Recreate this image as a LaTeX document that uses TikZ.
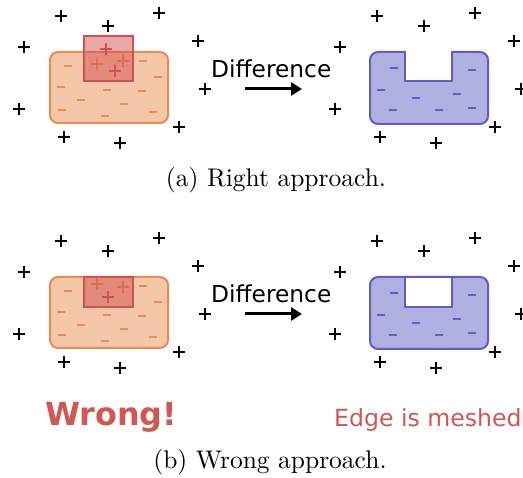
\documentclass[tikz,border=0pt]{standalone}
\usepackage{fontspec}
\newfontfamily\dejavu{DejaVu Sans}
\newfontfamily\capfont{lmroman10-regular}[Extension=.otf]
\usetikzlibrary{arrows.meta}
\definecolor{ofill}{RGB}{244,199,168}
\definecolor{oline}{RGB}{238,140,80}
\definecolor{rline}{RGB}{212,80,80}
\definecolor{bfill}{RGB}{176,176,224}
\definecolor{bline}{RGB}{98,92,196}
\definecolor{wrongred}{RGB}{212,86,82}
\tikzset{
  pics/plussign/.style={code={\draw[line width=1.1pt,#1] (-6,0)--(6,0) (0,-6)--(0,6);}},
  pics/plussign/.default=black,
  pics/minussign/.style={code={\draw[line width=1.8pt,#1] (-4,0)--(4,0);}},
  orect/.style={fill=ofill,draw=oline,line width=2pt,rounded corners=8pt},
  brect/.style={fill=bfill,draw=bline,line width=2pt,rounded corners=8pt},
  rsq/.style={fill=rline,fill opacity=0.5,draw=rline,draw opacity=1,line width=2pt},
  difftext/.style={inner sep=0pt,font=\dejavu\fontsize{23.3}{28}\selectfont},
  captext/.style={inner sep=0pt,font=\capfont\fontsize{25.5}{30}\selectfont},
  bigarrow/.style={line width=3pt,-{Triangle[length=11pt,width=13pt]}},
}
\newcommand\commonrow[1]{%
  \foreach \x/\y in {61/16,108/26,159/13,24/47,198/41,205/89,19/109,179/127,64/137,120/143}
    {\pic at (\x,\y) {plussign}; \pic at (\x+316,\y) {plussign};}
  \draw[orect] (50,52) rectangle (168,123);
  \foreach \x/\y in {68/66,143/61,158/77,61/87,107/90,142/91,81/100,124/104,62/110,105/116,153/112}
    {\pic at (\x,\y) {minussign=oline};}
  \draw[brect] (370,52) rectangle (488,124);
  \foreach \x/\y in {394/68,472/70,381/90,416/98,457/94,393/110,439/110,472/108}
    {\pic at (\x,\y) {minussign=bline};}
  \node[difftext,anchor=base west] (diff#1) at (211,78) {Difference};
  \coordinate (as#1) at (245,89);
  \coordinate (ae#1) at (302,89);
  \draw[bigarrow] (as#1) -- (ae#1);
}
\begin{document}
\begin{tikzpicture}[x=1pt,y=-1pt]
\useasboundingbox (0,0) rectangle (523,478);
% ---------- row (a)
\begin{scope}
  \commonrow{a}
  \pic at (97,64) {plussign=oline};
  \pic at (123,61) {plussign=oline};
  \draw[rsq] (84,36) rectangle (133,81);
  \pic at (106,49) {plussign=rline};
  \pic at (115,71) {plussign=rline};
  \fill[white] (405,48) rectangle (452,81);
  \draw[bline,line width=2pt] (405,51) -- (405,81) -- (452,81) -- (452,51);
\end{scope}
\node[captext,anchor=base] (capa) at (276,187) {(a) Right approach.};
% ---------- row (b)
\begin{scope}[shift={(0,225)}]
  \commonrow{b}
  \pic at (97,59) {plussign=oline};
  \pic at (123,62) {plussign=oline};
  \draw[rsq] (84,52) rectangle (133,82);
  \pic at (108,72) {plussign=rline};
  \draw[bline,fill=white,line width=2pt] (405,52) rectangle (452,82);
\end{scope}
\node[inner sep=0pt,anchor=base west,text=wrongred,font=\dejavu\bfseries\fontsize{31.8}{36}\selectfont] (wrong) at (45,426) {Wrong!};
\node[inner sep=0pt,anchor=base west,text=wrongred,font=\dejavu\fontsize{23.6}{28}\selectfont] (edge) at (334,427) {Edge is meshed};
\node[captext,anchor=base] (capb) at (270,469) {(b) Wrong approach.};
\end{tikzpicture}
\end{document}
